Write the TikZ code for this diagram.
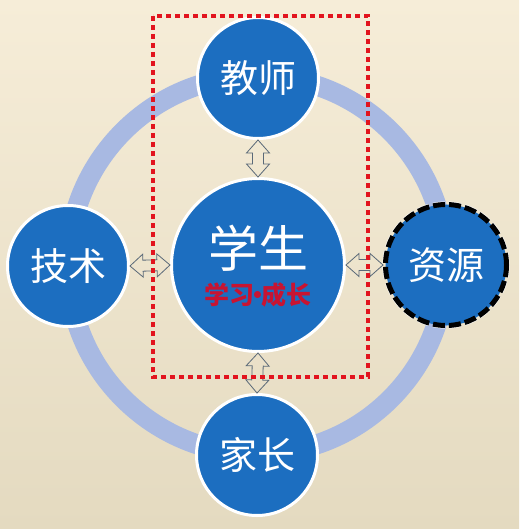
\documentclass[tikz,border=0pt]{standalone}
\usepackage{fontspec}
\setmainfont{Noto Sans CJK SC}
\usetikzlibrary{calc}
\definecolor{nodeblue}{RGB}{28,110,192}
\definecolor{ringblue}{RGB}{168,185,226}
\definecolor{boxred}{RGB}{226,20,30}
\definecolor{textred}{RGB}{200,20,50}
\definecolor{arrowgray}{RGB}{90,105,120}
\definecolor{bgtop}{RGB}{246,237,216}
\definecolor{bgbottom}{RGB}{228,218,192}

\def\ah{13pt}  % head length
\def\aw{11.5pt} % half head width
\def\as{5.5pt} % half shaft width

\tikzset{
  role/.style={circle,fill=nodeblue,draw=white,line width=3pt,minimum size=121pt,
    inner sep=0pt,text=white,font=\fontsize{38}{40}\selectfont},
  hub/.style={role,minimum size=173pt},
  dashedrim/.style={draw=black,line width=5pt,dash pattern=on 12pt off 4pt,
    preaction={draw=white,line width=6pt}},
  dblarrow/.style={draw=arrowgray,line width=0.8pt,line join=miter,
    to path={(\tikztostart)
      -- ($($(\tikztostart)!\ah!(\tikztotarget)$)!\aw!90:(\tikztotarget)$)
      -- ($($(\tikztostart)!\ah!(\tikztotarget)$)!\as!90:(\tikztotarget)$)
      -- ($($(\tikztotarget)!\ah!(\tikztostart)$)!\as!90:(\tikztotarget)$)
      -- ($($(\tikztotarget)!\ah!(\tikztostart)$)!\aw!90:(\tikztotarget)$)
      -- (\tikztotarget)
      -- ($($(\tikztotarget)!\ah!(\tikztostart)$)!\aw!-90:(\tikztotarget)$)
      -- ($($(\tikztotarget)!\ah!(\tikztostart)$)!\as!-90:(\tikztotarget)$)
      -- ($($(\tikztostart)!\ah!(\tikztotarget)$)!\as!-90:(\tikztotarget)$)
      -- ($($(\tikztostart)!\ah!(\tikztotarget)$)!\aw!-90:(\tikztotarget)$)
      -- cycle}}
}

\begin{document}
\begin{tikzpicture}[x=1pt,y=-1pt]
  % background
  \fill[top color=bgtop,bottom color=bgbottom] (0,0) rectangle (519,529);
  \useasboundingbox (0,0) rectangle (519,529);
  % ring
  \draw[ringblue,line width=20pt] (257,265) circle[radius=189];
  % nodes
  \node[role] (teacher) at (258,78) {教师};
  \node[role] (tech) at (68,266) {技术};
  \node[role,dashedrim] (resource) at (446,265) {资源};
  \node[role] (parent) at (257,455) {家长};
  \node[hub] (student) at (258,265) {};
  \node[text=white,font=\fontsize{50}{52}\selectfont] (hubtitle) at ($(student)+(0,-17)$) {学生};
  \node[text=textred,font=\fontsize{25}{27}\selectfont\bfseries] (hubsub) at ($(student)+(0,30)$)
    {学习\kern-0.36em·\kern-0.36em成长};
  % double arrows
  \draw[dblarrow] (teacher.south) to (student.north);
  \draw[dblarrow] (tech.east) to (student.west);
  \draw[dblarrow] (resource.west) to (student.east);
  \draw[dblarrow] (parent.north) to (student.south);
  % dotted frame
  \draw[boxred,line width=4.5pt,dash pattern=on 5pt off 4pt] (153,16) rectangle (368,377);
\end{tikzpicture}
\end{document}
